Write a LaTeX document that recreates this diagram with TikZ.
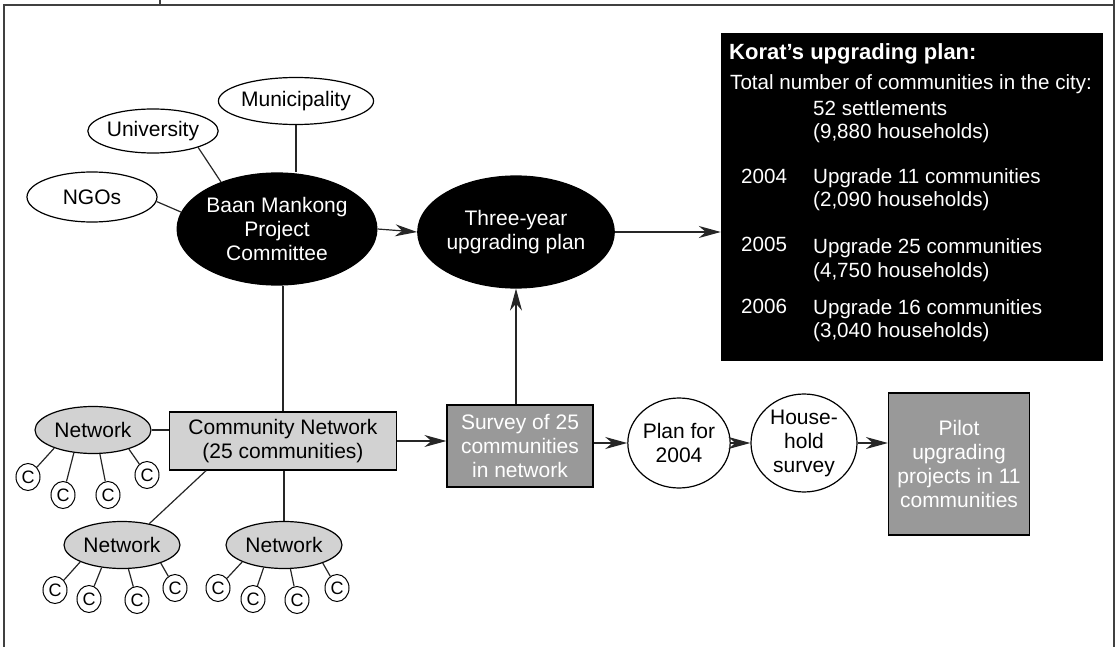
\documentclass[tikz,border=0pt]{standalone}
\usepackage{fontspec}
\setmainfont{Liberation Sans}
\usetikzlibrary{shapes.geometric,arrows.meta,calc}
\definecolor{netgrey}{RGB}{210,210,210}
\definecolor{survgrey}{RGB}{153,153,153}
\begin{document}
\begin{tikzpicture}[x=1pt,y=-1pt,
  every node/.style={font=\fontsize{21}{24}\selectfont},
  line/.style={line width=1.2pt, draw=black!85},
  arr/.style={line, -{Stealth[length=22pt,width=12pt,inset=7pt]}},
  frame/.style={line width=1.5pt, draw=black!75},
  wellipse/.style={ellipse, draw, line width=1.2pt, fill=white, inner sep=0pt},
  bellipse/.style={ellipse, draw, line width=1.2pt, fill=black, text=white, align=center, inner sep=0pt},
  netnode/.style={ellipse, draw, line width=1.2pt, fill=netgrey, inner sep=0pt, minimum width=116pt, minimum height=47pt},
  cnode/.style={ellipse, draw, line width=1pt, inner sep=0pt, minimum width=24pt, minimum height=27pt, font=\fontsize{18}{18}\selectfont},
  wcircle/.style={ellipse, draw, line width=1.2pt, align=center, inner sep=0pt},
  greybox/.style={rectangle, draw, line width=1.2pt, fill=survgrey, text=white, align=center, inner sep=0pt},
  kt/.style={anchor=base west, text=white, inner sep=0pt, font=\fontsize{20.6}{24}\selectfont}
]
\useasboundingbox (0,0) rectangle (1117,647);
% frame
\draw[frame] (4,647) -- (4,5) -- (1114,5);
\draw[frame] (1114,0) -- (1114,647);
\draw[frame] (160,0) -- (160,5);

% top part
\node[wellipse, minimum width=134pt, minimum height=47pt] (muni) at (296,101) {Municipality};
\node[wellipse, minimum width=130pt, minimum height=44pt] (univ) at (153,131) {University};
\node[wellipse, minimum width=130pt, minimum height=50pt] (ngo) at (92,197) {NGOs};
\node[bellipse, minimum width=190pt, minimum height=112pt] (baan) at (277,229) {Baan Mankong\\Project\\Committee};
\node[bellipse, minimum width=188pt, minimum height=112pt] (three) at (516,232) {Three-year\\upgrading plan};

\draw[line] (muni.south) -- (muni.south |- baan.north);
\draw[line] (univ.340) -- (baan.140);
\draw[line] (ngo.356) -- (baan.170);
\draw[arr] (baan.east) -- (three.west);

% Korat box
\node[rectangle, fill=black, minimum width=382pt, minimum height=328pt, inner sep=0pt] (kbox) at (912,197) {};
\draw[arr] (three.east) -- (three.east -| kbox.west);
\node[kt, font=\bfseries\fontsize{22}{24}\selectfont] (kt1) at (729,60) {Korat’s upgrading plan:};
\node[kt] (kt2) at (730,90) {Total number of communities in the city:};
\node[kt] (kt3) at (813,116) {52 settlements};
\node[kt] (kt4) at (813,139) {(9,880 households)};
\node[kt] (y1) at (741,184) {2004};
\node[kt] (kt5) at (813,184) {Upgrade 11 communities};
\node[kt] (kt6) at (813,207) {(2,090 households)};
\node[kt] (y2) at (741,252) {2005};
\node[kt] (kt7) at (813,254) {Upgrade 25 communities};
\node[kt] (kt8) at (813,277) {(4,750 households)};
\node[kt] (y3) at (741,313) {2006};
\node[kt] (kt9) at (813,314) {Upgrade 16 communities};
\node[kt] (kt10) at (813,337) {(3,040 households)};

% community network
\node[rectangle, draw, line width=1.2pt, fill=netgrey, minimum width=227pt, minimum height=58pt, align=center, inner sep=0pt] (cn) at (283,441) {Community Network\\(25 communities)};
\draw[line] (cn.north) -- (cn.north |- baan.south);

\node[greybox, minimum width=146pt, minimum height=82pt] (surv) at (520,446) {Survey of 25\\communities\\in network};
\draw[arr] (cn.east) -- (cn.east -| surv.west);
\draw[arr] (three.south |- surv.north) -- (three.south);

\node[wcircle, minimum width=86pt, minimum height=90pt] (plan) at (679,443) {Plan for\\2004};
\node[wcircle, minimum width=106pt, minimum height=98pt] (hh) at (804,443) {House-\\hold\\survey};
\node[greybox, minimum width=141pt, minimum height=142pt] (pilot) at (959,464) {Pilot\\upgrading\\projects in 11\\communities};
\draw[arr] (plan.west -| surv.east) -- (plan.west);
\draw[arr] (plan.east) -- (hh.west);
\draw[arr] (hh.east) -- (hh.east -| pilot.west);

% networks
\node[netnode] (n1) at (93,430) {Network};
\node[netnode] (n2) at (122,545) {Network};
\node[netnode] (n3) at (284,545) {Network};
\draw[line] (n1.east) -- (n1.east -| cn.west);
\draw[line] (n2.38) -- ($(cn.south west)!0.163!(cn.south east)$);
\draw[line] (n3.north) -- (n3.north |- cn.south);

\foreach \nm/\x/\y/\a in {a/28/477/205, b/63/495/230, c/108/495/286, d/147/475/332}{
  \node[cnode] (c1\nm) at (\x,\y) {C};
  \draw[line] (n1.\a) -- (c1\nm);
}
\foreach \nm/\x/\y/\a in {a/55/590/202, b/89/599/228, c/137/600/285, d/175/588/335}{
  \node[cnode] (c2\nm) at (\x,\y) {C};
  \draw[line] (n2.\a) -- (c2\nm);
}
\foreach \nm/\x/\y/\a in {a/218/588/202, b/253/599/228, c/297/600/285, d/337/588/335}{
  \node[cnode] (c3\nm) at (\x,\y) {C};
  \draw[line] (n3.\a) -- (c3\nm);
}
\end{tikzpicture}
\end{document}
